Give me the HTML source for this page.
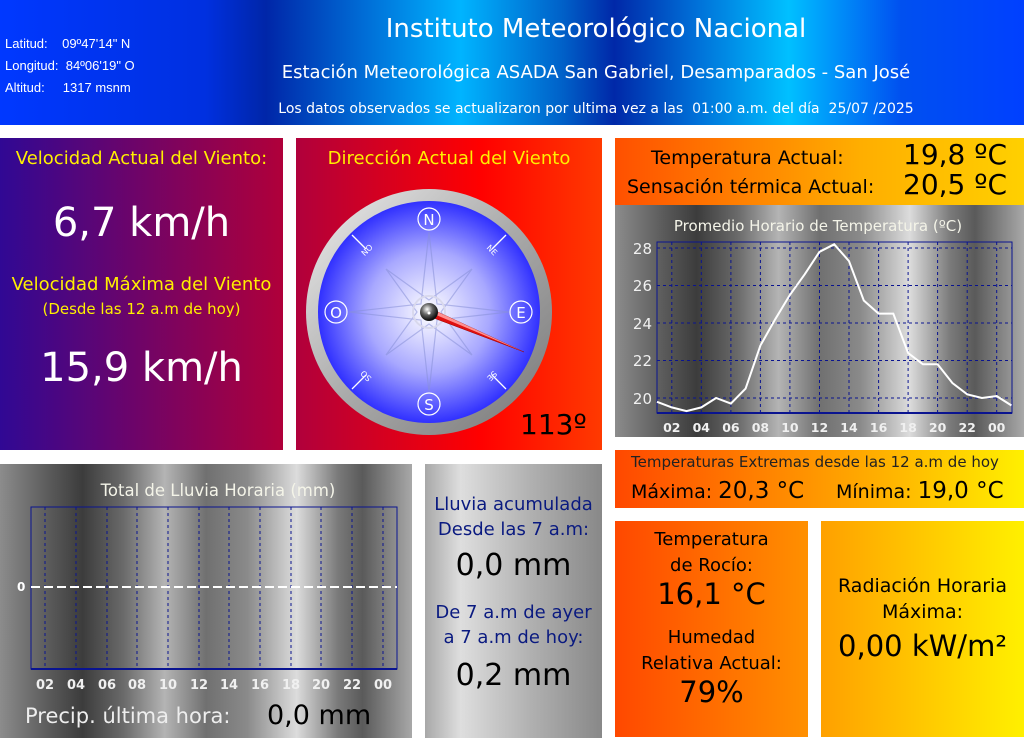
<!DOCTYPE html>
<html><head><meta charset="utf-8"><style>
*{margin:0;padding:0;box-sizing:border-box}
body{width:1024px;height:750px;background:#fff;position:relative;overflow:hidden;font-family:"DejaVu Sans","Liberation Sans",sans-serif}
.a{position:absolute}
.t{position:absolute;left:0;width:100%;text-align:center;white-space:nowrap}
.gray{background:linear-gradient(90deg,#8c8c8c 0%,#5a5a5a 12%,#3c3c3c 20%,#6a6a6a 30%,#b4b4b4 40%,#707070 50%,#8a8a8a 60%,#dcdcdc 72%,#7a7a7a 82%,#5a5a5a 88%,#a8a8a8 100%)}
</style></head><body>
<div class="a" style="left:0;top:0;width:1024px;height:125px;background:linear-gradient(90deg,#0038ff 0%,#0030e0 20%,#0026a8 26%,#0070d8 36%,#00b4ff 45%,#0060c8 55%,#0028a8 60%,#0070d8 68%,#00c0ff 77%,#0050f0 88%,#0040ff 100%)"></div>
<div class="a" style="left:5px;top:33px;color:#fff;font-family:'Liberation Sans Narrow','Liberation Sans',sans-serif;font-size:13px;line-height:22px">
<div>Latitud:&nbsp;&nbsp;&nbsp; 09º47'14" N</div><div>Longitud:&nbsp; 84º06'19" O</div><div>Altitud:&nbsp;&nbsp;&nbsp;&nbsp; 1317 msnm</div></div>
<div class="a" style="left:230px;width:732px;top:14px;text-align:center;color:#fff;font-size:26px">Instituto Meteorológico Nacional</div>
<div class="a" style="left:230px;width:732px;top:62px;text-align:center;color:#fff;font-size:18px">Estación Meteorológica ASADA San Gabriel, Desamparados - San José</div>
<div class="a" style="left:230px;width:732px;top:101px;text-align:center;color:#fff;font-size:14px">Los datos observados se actualizaron por ultima vez a las&nbsp; 01:00 a.m. del día&nbsp; 25/07 /2025</div>

<div class="a" style="left:0;top:138px;width:283px;height:312px;background:linear-gradient(90deg,#300894,#b0003a)">
<div class="t" style="top:10px;color:#ffef00;font-size:18px">Velocidad Actual del Viento:</div>
<div class="t" style="top:62px;color:#fff;font-size:40px">6,7 km/h</div>
<div class="t" style="top:136px;color:#ffef00;font-size:18px">Velocidad Máxima del Viento</div>
<div class="t" style="top:162px;color:#ffef00;font-size:15px">(Desde las 12 a.m de hoy)</div>
<div class="t" style="top:207px;color:#fff;font-size:40px">15,9 km/h</div>
</div>
<div class="a" style="left:296px;top:138px;width:306px;height:312px;background:linear-gradient(90deg,#b0003c,#ff0000 60%,#ff3a00)">
<div class="t" style="top:10px;color:#ffef00;font-size:18px">Dirección Actual del Viento</div>
<div class="a" style="left:224px;top:270px;color:#000;font-size:28px">113º</div>
</div>
<div class="a" style="left:615px;top:138px;width:409px;height:67px;background:linear-gradient(90deg,#ff5000,#ffae00 60%,#ffd000)">
<div class="a" style="left:36px;top:9px;font-size:19px">Temperatura Actual:</div>
<div class="a" style="left:288px;top:0px;font-size:28px">19,8 ºC</div>
<div class="a" style="left:12px;top:38px;font-size:19px">Sensación térmica Actual:</div>
<div class="a" style="left:288px;top:30px;font-size:28px">20,5 ºC</div>
</div>
<div class="a gray" style="left:615px;top:205px;width:409px;height:232px"></div>
<div class="a" style="left:615px;top:450px;width:409px;height:58px;background:linear-gradient(90deg,#ff4800,#ffb000 65%,#fff000)">
<div class="a" style="left:16px;top:3px;font-size:15px;color:#222">Temperaturas Extremas desde las 12 a.m de hoy</div>
<div class="a" style="left:16px;top:28px;font-size:19px">Máxima: <span style="font-size:23px">20,3 °C</span></div>
<div class="a" style="left:221px;top:28px;font-size:19px">Mínima: <span style="font-size:23px">19,0 °C</span></div>
</div>
<div class="a gray" style="left:0;top:464px;width:412px;height:274px"></div>
<div class="a" style="left:25px;top:704px;color:#eee;font-size:21px">Precip. última hora:</div>
<div class="a" style="left:267px;top:700px;color:#000;font-size:27px">0,0 mm</div>
<div class="a" style="left:425px;top:464px;width:177px;height:274px;background:linear-gradient(90deg,#a8a8a8,#dedede 20%,#b0b0b0 60%,#888)">
<div class="t" style="top:28px;color:#0a1a80;font-size:18px;line-height:25px">Lluvia acumulada<br>Desde las 7 a.m:</div>
<div class="t" style="top:84px;font-size:30px">0,0 mm</div>
<div class="t" style="top:136px;color:#0a1a80;font-size:18px;line-height:25px">De 7 a.m de ayer<br>a 7 a.m de hoy:</div>
<div class="t" style="top:194px;font-size:30px">0,2 mm</div>
</div>
<div class="a" style="left:615px;top:521px;width:193px;height:216px;background:linear-gradient(90deg,#ff4800,#ff9000)">
<div class="t" style="top:6px;font-size:18px;line-height:26px">Temperatura<br>de Rocío:</div>
<div class="t" style="top:56px;font-size:29px">16,1 °C</div>
<div class="t" style="top:104px;font-size:18px;line-height:26px">Humedad<br>Relativa Actual:</div>
<div class="t" style="top:154px;font-size:29px">79%</div>
</div>
<div class="a" style="left:821px;top:521px;width:203px;height:216px;background:linear-gradient(90deg,#ffa000,#ffd000 60%,#fff000)">
<div class="t" style="top:52px;font-size:19px;line-height:26px">Radiación Horaria<br>Máxima:</div>
<div class="t" style="top:108px;font-size:29px">0,00 kW/m²</div>
</div>

<svg class="a" style="left:0;top:0" width="1024" height="750" font-family="DejaVu Sans,Liberation Sans,sans-serif">
<defs>
<radialGradient id="face" cx="50%" cy="50%" r="50%"><stop offset="0" stop-color="#fff"/><stop offset="0.55" stop-color="#a8a8ff"/><stop offset="1" stop-color="#3030ff"/></radialGradient>
<linearGradient id="ring" x1="0" y1="0" x2="1" y2="1"><stop offset="0" stop-color="#eee"/><stop offset="0.5" stop-color="#aaa"/><stop offset="1" stop-color="#777"/></linearGradient>
<radialGradient id="hub" cx="40%" cy="35%" r="60%"><stop offset="0" stop-color="#fff"/><stop offset="0.5" stop-color="#666"/><stop offset="1" stop-color="#111"/></radialGradient>
</defs>
<circle cx="429" cy="312" r="123" fill="url(#ring)"/>
<circle cx="429" cy="312" r="111" fill="url(#face)"/>
<g stroke="#8890d8" stroke-width="1.2" fill="none" opacity="0.55">
<polygon points="429,232 437,304 509,312 437,320 429,392 421,320 349,312 421,304"/>
<polygon points="472,269 441,312 472,355 429,324 386,355 417,312 386,269 429,300"/>
<circle cx="429" cy="312" r="16" stroke="#ccd" stroke-width="2"/>
</g>
<g stroke="#fff" stroke-width="1.3"><line x1="352" y1="235" x2="366" y2="249"/><line x1="506" y1="235" x2="492" y2="249"/><line x1="352" y1="389" x2="366" y2="375"/><line x1="506" y1="389" x2="492" y2="375"/></g>
<g fill="none" stroke="#fff" stroke-width="1.2"><circle cx="429" cy="219" r="11"/><circle cx="429" cy="404" r="11"/><circle cx="336" cy="312" r="11"/><circle cx="521" cy="312" r="11"/></g>
<g fill="#fff" font-size="15" text-anchor="middle"><text x="429" y="225">N</text><text x="429" y="410">S</text><text x="336" y="318">O</text><text x="521" y="318">E</text></g>
<g fill="#fff" font-size="8" text-anchor="middle"><text transform="translate(369,252) rotate(-45)">NO</text><text transform="translate(490,252) rotate(45)">NE</text><text transform="translate(368,374) rotate(-135)">SO</text><text transform="translate(490,374) rotate(135)">SE</text></g>
<polygon points="427,307 524,352 431,317" fill="#e01010" stroke="#900" stroke-width="0.5"/>
<polygon points="429,312 524,352 427,307" fill="#ff9090"/>
<circle cx="429" cy="312" r="9" fill="url(#hub)"/><circle cx="429" cy="313" r="1.5" fill="#fff"/>

<text x="818" y="231" fill="#f4f4e8" font-size="15" text-anchor="middle">Promedio Horario de Temperatura (ºC)</text>
<g stroke="#0a1490" stroke-width="1" stroke-dasharray="3,3">
<line x1="657" y1="398" x2="1012" y2="398"/><line x1="657" y1="360.5" x2="1012" y2="360.5"/><line x1="657" y1="323" x2="1012" y2="323"/><line x1="657" y1="285.5" x2="1012" y2="285.5"/><line x1="657" y1="248" x2="1012" y2="248"/>
<line x1="671.8" y1="242" x2="671.8" y2="413"/><line x1="701.3" y1="242" x2="701.3" y2="413"/><line x1="730.9" y1="242" x2="730.9" y2="413"/><line x1="760.4" y1="242" x2="760.4" y2="413"/><line x1="789.9" y1="242" x2="789.9" y2="413"/><line x1="819.5" y1="242" x2="819.5" y2="413"/><line x1="849" y1="242" x2="849" y2="413"/><line x1="878.6" y1="242" x2="878.6" y2="413"/><line x1="908.1" y1="242" x2="908.1" y2="413"/><line x1="937.6" y1="242" x2="937.6" y2="413"/><line x1="967.2" y1="242" x2="967.2" y2="413"/><line x1="996.7" y1="242" x2="996.7" y2="413"/>
</g>
<rect x="657" y="242" width="355" height="171" fill="none" stroke="#0a1490" stroke-width="1"/>
<line x1="657" y1="413" x2="1012" y2="413" stroke="#0a1490" stroke-width="2"/>
<polyline fill="none" stroke="#fff" stroke-width="2" points="657,401.8 671.8,407.4 686.5,411.1 701.3,407.4 716.1,398 730.9,403.6 745.6,388.6 760.4,345.5 775.2,319.3 789.9,294.9 804.7,274.3 819.5,251.8 834.2,244.3 849,261.1 863.8,300.5 878.6,313.6 893.3,313.6 908.1,353 922.9,364.3 937.6,364.3 952.4,383 967.2,394.3 981.9,398 996.7,396.1 1011.5,405.5"/>
<g fill="#f0f0f0" font-size="15" text-anchor="end"><text x="652" y="404">20</text><text x="652" y="366">22</text><text x="652" y="329">24</text><text x="652" y="291">26</text><text x="652" y="254">28</text></g>
<g fill="#f0f0f0" font-size="12.5" font-weight="bold" text-anchor="middle"><text x="671.8" y="432">02</text><text x="701.3" y="432">04</text><text x="730.9" y="432">06</text><text x="760.4" y="432">08</text><text x="789.9" y="432">10</text><text x="819.5" y="432">12</text><text x="849" y="432">14</text><text x="878.6" y="432">16</text><text x="908.1" y="432">18</text><text x="937.6" y="432">20</text><text x="967.2" y="432">22</text><text x="996.7" y="432">00</text></g>

<text x="218" y="496" fill="#f4f4e8" font-size="16.5" text-anchor="middle">Total de Lluvia Horaria (mm)</text>
<g stroke="#0a1490" stroke-width="1" stroke-dasharray="3,3">
<line x1="45" y1="507" x2="45" y2="669"/><line x1="76" y1="507" x2="76" y2="669"/><line x1="107" y1="507" x2="107" y2="669"/><line x1="137" y1="507" x2="137" y2="669"/><line x1="168" y1="507" x2="168" y2="669"/><line x1="199" y1="507" x2="199" y2="669"/><line x1="229" y1="507" x2="229" y2="669"/><line x1="260" y1="507" x2="260" y2="669"/><line x1="291" y1="507" x2="291" y2="669"/><line x1="321" y1="507" x2="321" y2="669"/><line x1="352" y1="507" x2="352" y2="669"/><line x1="383" y1="507" x2="383" y2="669"/>
</g>
<rect x="31" y="507" width="366" height="162" fill="none" stroke="#0a1490" stroke-width="1"/>
<line x1="31" y1="669" x2="397" y2="669" stroke="#0a1490" stroke-width="2"/>
<line x1="31" y1="587" x2="397" y2="587" stroke="#fff" stroke-width="2" stroke-dasharray="9,4"/>
<text x="17" y="591" fill="#fff" font-size="12" font-weight="bold">0</text>
<g fill="#f0f0f0" font-size="13" font-weight="bold" text-anchor="middle"><text x="45" y="689">02</text><text x="76" y="689">04</text><text x="107" y="689">06</text><text x="137" y="689">08</text><text x="168" y="689">10</text><text x="199" y="689">12</text><text x="229" y="689">14</text><text x="260" y="689">16</text><text x="291" y="689">18</text><text x="321" y="689">20</text><text x="352" y="689">22</text><text x="383" y="689">00</text></g>
</svg>
</body></html>
